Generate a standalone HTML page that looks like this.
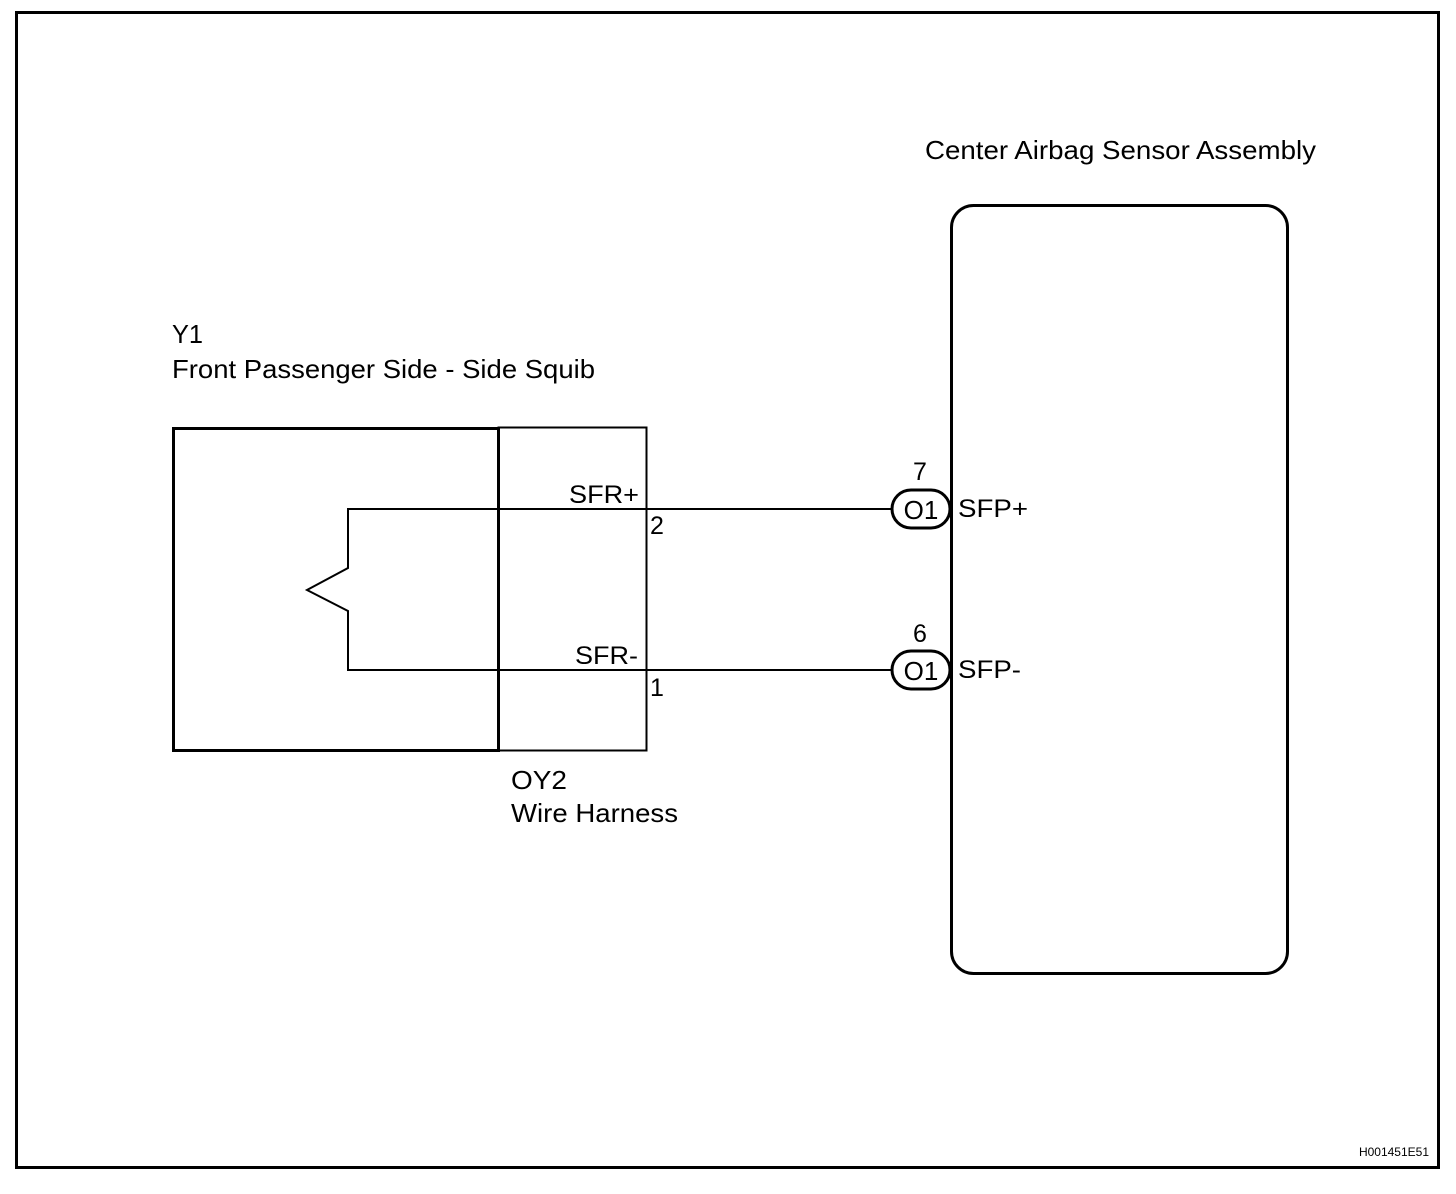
<!DOCTYPE html>
<html><head><meta charset="utf-8"><style>
html,body{margin:0;padding:0;background:#fff;}
svg{display:block;}
text{font-family:"Liberation Sans",Arial,sans-serif;fill:#000;}
</style></head><body>
<svg width="1456" height="1194" viewBox="0 0 1456 1194" xmlns="http://www.w3.org/2000/svg">
<rect x="16.5" y="12.5" width="1422" height="1155" fill="none" stroke="#000" stroke-width="3"/>
<text x="925" y="159" font-size="26" textLength="391" lengthAdjust="spacingAndGlyphs">Center Airbag Sensor Assembly</text>
<rect x="951.5" y="205.5" width="336" height="768" rx="22" fill="none" stroke="#000" stroke-width="3"/>
<text x="172" y="343" font-size="26" textLength="31" lengthAdjust="spacingAndGlyphs">Y1</text>
<text x="172" y="378" font-size="26" textLength="423" lengthAdjust="spacingAndGlyphs">Front Passenger Side - Side Squib</text>
<rect x="173.5" y="428.5" width="325" height="322" fill="none" stroke="#000" stroke-width="3"/>
<rect x="498.5" y="427.5" width="148" height="323" fill="none" stroke="#000" stroke-width="2"/>
<polyline points="891,509 348,509 348,568 307,590 348,611 348,670 891,670" fill="none" stroke="#000" stroke-width="2"/>
<text x="569" y="503" font-size="25" textLength="70" lengthAdjust="spacingAndGlyphs">SFR+</text>
<text x="575" y="664" font-size="25" textLength="63" lengthAdjust="spacingAndGlyphs">SFR-</text>
<text x="650" y="534" font-size="25">2</text>
<text x="650" y="696" font-size="25">1</text>
<rect x="892" y="490" width="58" height="38" rx="19" fill="#fff" stroke="#000" stroke-width="3"/>
<rect x="892" y="651" width="58" height="38" rx="19" fill="#fff" stroke="#000" stroke-width="3"/>
<text x="921" y="519" font-size="26" text-anchor="middle">O1</text>
<text x="921" y="680" font-size="26" text-anchor="middle">O1</text>
<text x="920" y="480" font-size="25" text-anchor="middle">7</text>
<text x="920" y="642" font-size="25" text-anchor="middle">6</text>
<text x="958" y="517" font-size="25" textLength="70" lengthAdjust="spacingAndGlyphs">SFP+</text>
<text x="958" y="678" font-size="25" textLength="63" lengthAdjust="spacingAndGlyphs">SFP-</text>
<text x="511" y="789" font-size="26" textLength="56" lengthAdjust="spacingAndGlyphs">OY2</text>
<text x="511" y="822" font-size="26" textLength="167" lengthAdjust="spacingAndGlyphs">Wire Harness</text>
<text x="1429" y="1156" font-size="12" text-anchor="end">H001451E51</text>
</svg>
</body></html>
